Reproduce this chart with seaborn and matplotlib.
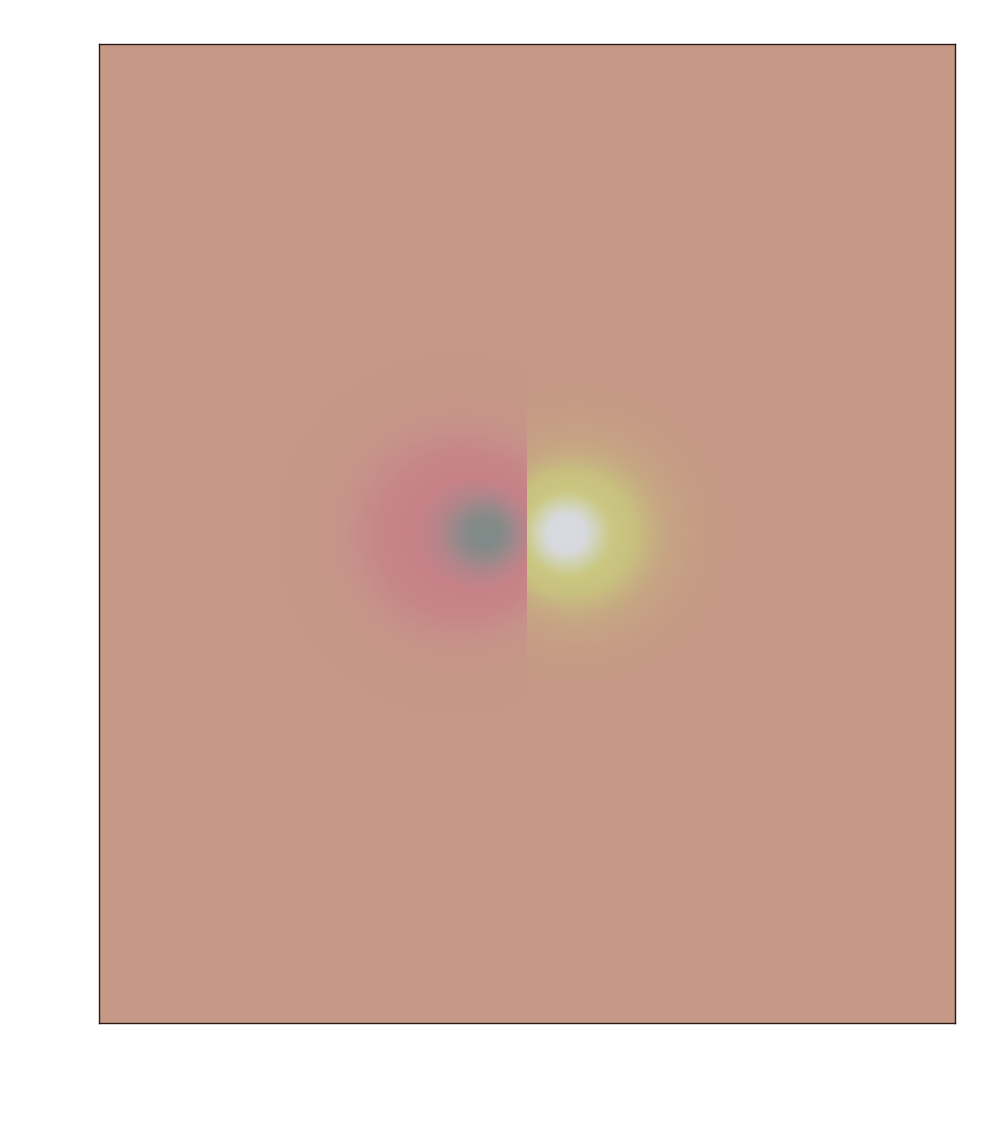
import numpy as np
import pandas as pd
import matplotlib
matplotlib.use("Agg")
import matplotlib.pyplot as plt
from matplotlib.colors import LinearSegmentedColormap
import seaborn as sns

sns.set_style("white")

# two lobes (negative left, positive right), plot units, origin at frame centre
sign = [-1.0, 1.0]
core_x = [0.173, 0.168]
core_w = [0.15, 0.135]
core_amp = [0.55, 0.55]
halo_x = [0.33, 0.235]
halo_w = [0.30, 0.24]
halo_amp = [0.45, 0.45]

# frame extent
x_range = [-2.0, 2.0]
y_range = [-2.287, 2.287]

# colour stops, value -1 .. 1
stop_pos = [0.0, 0.05, 0.12, 0.2, 0.3, 0.39, 0.45, 0.5, 0.55, 0.63, 0.74, 0.84, 0.93, 1.0]
stop_col = ["#7e8a87", "#828a88", "#98898b", "#b1858a", "#c68287", "#c68586", "#c6928a",
            "#c59985", "#c6a583", "#c8bf7f", "#cac781", "#d0d2b0", "#d7d9de", "#d8dae0"]

nx, ny = 428, 490
xs = np.linspace(x_range[0], x_range[1], nx)
ys = np.linspace(y_range[1], y_range[0], ny)
X, Y = np.meshgrid(xs, ys)

# each half of the frame belongs to one lobe
field = np.zeros_like(X)
for k in range(2):
    side = (X < 0) if sign[k] < 0 else (X >= 0)
    ax_ = np.abs(X)
    core = core_amp[k] * np.exp(-((ax_ - core_x[k]) ** 2 + Y ** 2) / (2 * core_w[k] ** 2))
    halo = halo_amp[k] * np.exp(-((ax_ - halo_x[k]) ** 2 + Y ** 2) / (2 * halo_w[k] ** 2))
    field += np.where(side, sign[k] * (core + halo), 0.0)

df = pd.DataFrame(field, index=np.round(ys, 3), columns=np.round(xs, 3))

cmap = LinearSegmentedColormap.from_list("dip", list(zip(stop_pos, stop_col)))

fig = plt.figure(figsize=(10, 11.23), dpi=100)
ax = fig.add_axes([0.099, 1 - 1023 / 1123, 0.856, 979 / 1123])
sns.heatmap(df, ax=ax, cmap=cmap, vmin=-1, vmax=1, cbar=False,
            xticklabels=False, yticklabels=False, rasterized=True)
ax.set_xlabel("")
ax.set_ylabel("")
for s in ax.spines.values():
    s.set_visible(True)
    s.set_color("#2a1a16")
    s.set_linewidth(1.0)

fig.savefig("out.png", dpi=100)
